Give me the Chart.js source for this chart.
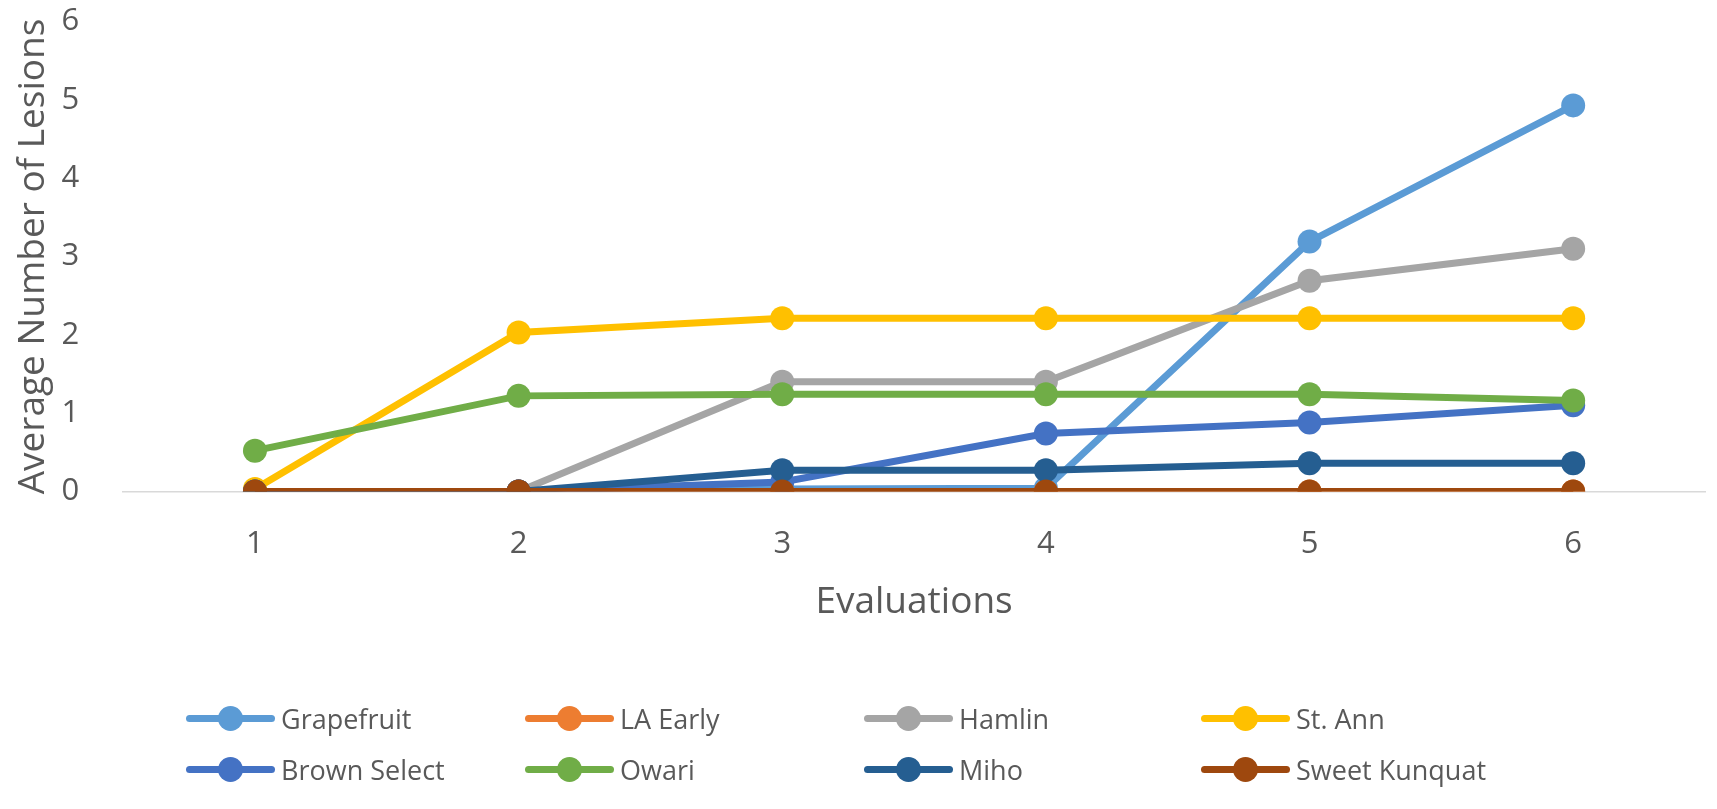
<!DOCTYPE html>
<html>
<head>
<meta charset="utf-8">
<script src="https://cdn.jsdelivr.net/npm/chart.js@4"></script>
<style>
  body { margin: 0; background: #fff; }
  #wrap { position: relative; width: 1717px; height: 809px; }
  #legend { position: absolute; left: 0; top: 0; width: 1717px; height: 809px; pointer-events: none;
            font-family: "Open Sans", sans-serif; font-size: 27px; color: #595959; }
  .item { position: absolute; display: flex; align-items: center; height: 40px; margin-top: -20px; }
  .mark { position: relative; width: 89px; height: 7px; border-radius: 3.5px; margin-right: 6px; }
  .mark::after { content: ""; position: absolute; left: 32px; top: -9px; width: 25px; height: 25px;
                 border-radius: 50%; background: inherit; }
</style>
</head>
<body>
<div id="wrap">
  <canvas id="chart" width="1717" height="809"></canvas>
  <div id="legend"></div>
</div>
<script>
const labels = ['1', '2', '3', '4', '5', '6'];

const grapefruit = [0, 0, 0.03, 0.04, 3.19, 4.93];
const laEarly = [0, 0, 0, 0, 0, 0];
const hamlin = [0, 0, 1.40, 1.40, 2.69, 3.10];
const stAnn = [0.03, 2.03, 2.21, 2.21, 2.21, 2.21];
const brownSelect = [0, 0, 0.12, 0.74, 0.88, 1.10];
const owari = [0.52, 1.22, 1.24, 1.24, 1.24, 1.16];
const miho = [0, 0, 0.27, 0.27, 0.36, 0.36];
const sweetKunquat = [0, 0, 0, 0, 0, 0];

const yTicks = [0, 1, 2, 3, 4, 5, 6];

const series = [
  { label: 'Grapefruit', data: grapefruit, color: '#5B9BD5' },
  { label: 'LA Early', data: laEarly, color: '#ED7D31' },
  { label: 'Hamlin', data: hamlin, color: '#A5A5A5' },
  { label: 'St. Ann', data: stAnn, color: '#FFC000' },
  { label: 'Brown Select', data: brownSelect, color: '#4472C4' },
  { label: 'Owari', data: owari, color: '#70AD47' },
  { label: 'Miho', data: miho, color: '#255E91' },
  { label: 'Sweet Kunquat', data: sweetKunquat, color: '#9E480E' }
];

const textColor = '#595959';
const clear = 'rgba(0,0,0,0)';

new Chart(document.getElementById('chart'), {
  type: 'line',
  data: {
    labels: labels,
    datasets: series.map((s, i) => ({
      label: s.label,
      data: s.data,
      borderColor: s.color,
      backgroundColor: s.color,
      pointBackgroundColor: s.color,
      pointBorderWidth: 0,
      pointRadius: 12,
      borderWidth: 7,
      order: series.length - i   // later series drawn on top, like Excel
    }))
  },
  options: {
    responsive: false,
    animation: false,
    layout: { padding: { top: 0, right: 6, bottom: 184, left: 0 } },
    plugins: {
      legend: { display: false },
      tooltip: { enabled: false }
    },
    scales: {
      x: {
        offset: true,
        afterFit: axis => { axis.paddingLeft = 0; axis.paddingRight = 0; },
        grid: { display: true, drawOnChartArea: false, drawTicks: true, tickLength: 32, tickColor: clear },
        border: { display: true, color: '#D9D9D9', width: 1.5 },
        ticks: { padding: 2, color: textColor, font: { family: 'Open Sans', size: 31 } },
        title: {
          display: true, text: 'Evaluations', color: textColor,
          font: { family: 'Open Sans', size: 37 }, padding: { top: 16, bottom: 0 }
        }
      },
      y: {
        min: 0,
        max: 6,
        afterBuildTicks: axis => { axis.ticks = yTicks.map(v => ({ value: v })); },
        grid: { display: true, drawOnChartArea: false, drawTicks: true, tickLength: 41, tickColor: clear },
        border: { display: false },
        ticks: { padding: 3, color: textColor, font: { family: 'Open Sans', size: 31 } },
        title: {
          display: true, text: 'Average Number of Lesions', color: textColor,
          font: { family: 'Open Sans', size: 37 }, padding: { top: 11, bottom: 3 }
        }
      }
    }
  }
});

// legend laid out in fixed columns like the original
const legendCols = [186, 525, 864, 1201];
const legendRows = [718, 769];
const legend = document.getElementById('legend');
series.forEach((s, i) => {
  const item = document.createElement('div');
  item.className = 'item';
  item.style.left = legendCols[i % 4] + 'px';
  item.style.top = legendRows[Math.floor(i / 4)] + 'px';
  const mark = document.createElement('span');
  mark.className = 'mark';
  mark.style.background = s.color;
  const text = document.createElement('span');
  text.textContent = s.label;
  item.appendChild(mark);
  item.appendChild(text);
  legend.appendChild(item);
});
</script>
</body>
</html>
